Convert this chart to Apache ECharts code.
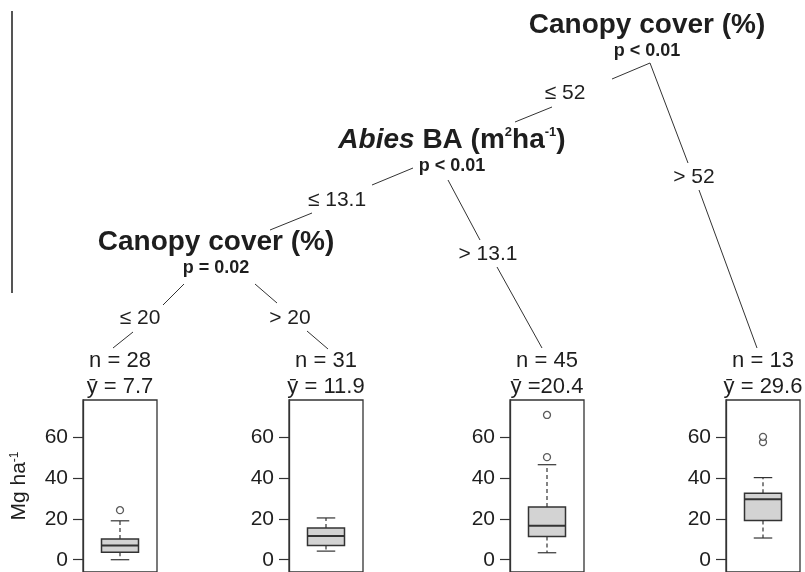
<!DOCTYPE html>
<html>
<head>
<meta charset="utf-8">
<script src="https://cdn.jsdelivr.net/npm/echarts@6/dist/echarts.min.js"></script>
<style>html,body{margin:0;padding:0;background:#fff}#chart{width:805px;height:572px}</style>
</head>
<body>
<div id="chart"></div>
<script>
// leaf summaries (biomass, Mg ha-1)
const leafN = [28, 31, 45, 13];
const leafMean = ['7.7', '11.9', '20.4', '29.6'];
const boxMin = [0, 4.2, 3.4, 10.6];
const boxQ1 = [3.7, 6.9, 11.3, 19.2];
const boxMedian = [6.9, 11.6, 16.6, 29.5];
const boxQ3 = [10.1, 15.5, 25.7, 32.4];
const boxMax = [19.0, 20.4, 46.4, 40.1];
const outliers = [[24.2], [], [50.1, 70.7], [57.4, 60.0]];
const yTicks = [0, 20, 40, 60];

// inner nodes and split labels
const nodeTitles = ['Canopy cover (%)', '{i|Abies} BA (m{sup|2}ha{sup|-1})', 'Canopy cover (%)'];
const nodePValues = ['p < 0.01', 'p < 0.01', 'p = 0.02'];
const splitLabels = ['≤ 52', '> 52', '≤ 13.1', '> 13.1', '≤ 20', '> 20'];

// layout (pixels)
const FONT = "'Liberation Sans', Arial, 'DejaVu Sans', sans-serif";
const INK = '#1e1e1e';
const panelLeft = [83, 289, 510, 726];
const panelWidth = 74;
const panelTop = 400;
const panelHeight = 174;
const nodePos = [[647, 25], [452, 140], [216, 242]];
const splitPos = [[565, 93], [694, 177], [337, 200], [488, 254], [140, 318], [290, 318]];
const edgeSegs = [
  [[650, 63, 612, 79], [552, 107, 515, 122]],
  [[650, 63, 688, 163], [699, 190, 757, 348]],
  [[413, 168, 372, 185], [312, 213, 270, 230]],
  [[448, 180, 480, 240], [497, 267, 542, 348]],
  [[184, 284, 163, 305], [133, 332, 113, 348]],
  [[255, 284, 277, 303], [307, 331, 328, 349]]
];

const chart = echarts.init(document.getElementById('chart'));

function txt(x, y, text, size, weight, extra) {
  return {
    type: 'text', x: x, y: y,
    style: Object.assign({
      text: text, fontSize: size, fontWeight: weight || 'normal', fontFamily: FONT,
      fill: INK, align: 'center', verticalAlign: 'middle',
      textAlign: 'center', textVerticalAlign: 'middle'
    }, extra || {})
  };
}

const graphics = [];
// left rule
graphics.push({ type: 'line', shape: { x1: 12, y1: 11, x2: 12, y2: 293 }, style: { stroke: '#555', lineWidth: 2 } });
nodeTitles.forEach((t, i) => {
  graphics.push(txt(nodePos[i][0], nodePos[i][1], t, 28, 'bold', {
    rich: {
      i: { fontSize: 28, fontWeight: 'bold', fontStyle: 'italic', fontFamily: FONT, fill: INK },
      sup: { fontSize: 13, fontWeight: 'bold', fontFamily: FONT, fill: INK, verticalAlign: 'top' }
    }
  }));
  graphics.push(txt(nodePos[i][0], nodePos[i][1] + 26, nodePValues[i], 18, 'bold'));
});
splitLabels.forEach((t, i) => {
  graphics.push(txt(splitPos[i][0], splitPos[i][1], t, 21));
  edgeSegs[i].forEach(s => graphics.push({
    type: 'line', shape: { x1: s[0], y1: s[1], x2: s[2], y2: s[3] },
    style: { stroke: '#333', lineWidth: 1 }
  }));
});
leafN.forEach((n, i) => {
  const cx = panelLeft[i] + panelWidth / 2;
  graphics.push(txt(cx, 361, 'n = ' + n, 22));
  graphics.push(txt(cx, 387, (i === 2 ? 'ȳ =' : 'ȳ = ') + leafMean[i], 22));
});

function renderBox(params, api) {
  const lo = api.value(1), q1 = api.value(2), md = api.value(3), q3 = api.value(4), hi = api.value(5);
  const p = (x, y) => api.coord([x, y]);
  const ln = (a, b, w, dash) => ({
    type: 'line', shape: { x1: a[0], y1: a[1], x2: b[0], y2: b[1] },
    style: { stroke: '#333', lineWidth: w, lineDash: dash || null }
  });
  const tl = p(0.25, q3), br = p(0.75, q1);
  return {
    type: 'group',
    children: [
      ln(p(0.5, q3), p(0.5, hi), 1.2, [4, 3]),
      ln(p(0.5, q1), p(0.5, lo), 1.2, [4, 3]),
      ln(p(0.375, hi), p(0.625, hi), 1.2),
      ln(p(0.375, lo), p(0.625, lo), 1.2),
      { type: 'rect', shape: { x: tl[0], y: tl[1], width: br[0] - tl[0], height: br[1] - tl[1] },
        style: { fill: '#d3d3d3', stroke: '#333', lineWidth: 1.5 } },
      ln(p(0.25, md), p(0.75, md), 2)
    ]
  };
}

const grids = [], xAxes = [], yAxes = [], series = [];
leafN.forEach((n, i) => {
  grids.push({ left: panelLeft[i], top: panelTop, width: panelWidth, height: panelHeight,
    show: true, borderColor: '#333', borderWidth: 1.3, backgroundColor: 'transparent' });
  xAxes.push({ gridIndex: i, type: 'value', min: 0, max: 1, show: false });
  yAxes.push({
    gridIndex: i, type: 'value', min: -6, max: 78,
    axisLine: { show: true, lineStyle: { color: '#333', width: 1.3 } },
    axisTick: { show: true, length: 10, customValues: yTicks, lineStyle: { color: '#333', width: 1.2 } },
    axisLabel: { customValues: yTicks, fontSize: 21, fontFamily: FONT, color: INK, margin: 15 },
    splitLine: { show: false },
    name: i === 0 ? '{a|Mg ha}{s|-1}' : '',
    nameLocation: 'middle', nameRotate: 90, nameGap: 53,
    nameTextStyle: {
      fontSize: 21, fontFamily: FONT, color: INK,
      rich: {
        a: { fontSize: 21, fontFamily: FONT, color: INK },
        s: { fontSize: 12, fontFamily: FONT, color: INK, verticalAlign: 'top' }
      }
    }
  });
  series.push({
    type: 'custom', xAxisIndex: i, yAxisIndex: i, renderItem: renderBox,
    encode: { x: 0, y: [1, 2, 3, 4, 5] },
    data: [[0.5, boxMin[i], boxQ1[i], boxMedian[i], boxQ3[i], boxMax[i]]],
    silent: true
  });
  series.push({
    type: 'scatter', xAxisIndex: i, yAxisIndex: i, symbol: 'circle', symbolSize: 7,
    itemStyle: { color: '#fff', borderColor: '#333', borderWidth: 1.3 },
    data: outliers[i].map(v => [0.5, v]), silent: true
  });
});

chart.setOption({
  animation: false,
  backgroundColor: '#fff',
  grid: grids,
  xAxis: xAxes,
  yAxis: yAxes,
  series: series,
  graphic: graphics
});
</script>
</body>
</html>
